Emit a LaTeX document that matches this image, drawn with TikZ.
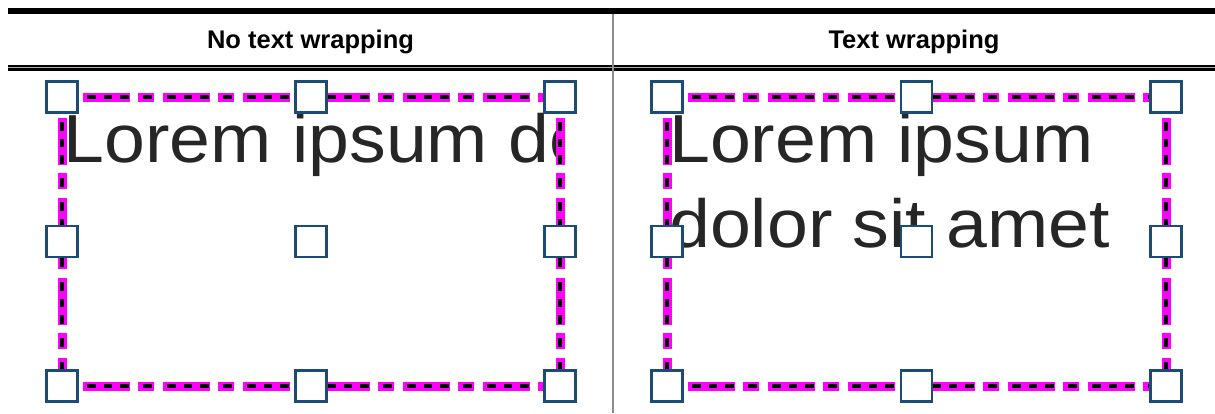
\documentclass[tikz,border=0pt]{standalone}
\usepackage{fontspec}
\setmainfont{Liberation Sans}
\newfontfamily\loremfont[FakeStretch=1.08]{Liberation Sans}
\definecolor{handleblue}{RGB}{28,76,116}
\definecolor{framemag}{RGB}{255,0,255}
\definecolor{txtgray}{RGB}{38,38,38}
\definecolor{sepgray}{RGB}{140,140,140}
\begin{document}
\begin{tikzpicture}[x=1pt,y=-1pt,
  hdr/.style={font=\bfseries\fontsize{25.5}{30}\selectfont, anchor=base, inner sep=0},
  lorem/.style={font=\loremfont\fontsize{68}{85}\selectfont, text=txtgray, anchor=base west, inner sep=0},
  handle/.style={rectangle, draw=handleblue, fill=white, line width=2.3pt, minimum size=31pt, inner sep=0},
  magline/.style={draw=framemag, line width=9pt, dash pattern=on 47pt off 8pt on 16pt off 9pt, dash phase=59pt},
  blkline/.style={draw=black, line width=3.5pt, dash pattern=on 8.5pt off 8pt on 8.5pt off 8pt on 8.5pt off 14.5pt on 8.5pt off 15.5pt, dash phase=55pt}
]
\useasboundingbox (0,0) rectangle (1215,413);
\fill[white] (0,0) rectangle (1215,413);

% table rules
\fill[black] (8,8) rectangle (1215,13.5);
\fill[black] (8,65) rectangle (1215,71);
\draw[sepgray!70, line width=0.8pt] (8,67.3) -- (1215,67.3);
\draw[sepgray, line width=1.8pt] (613,13.5) -- (613,413);

% headers
\node[hdr] (h1) at (310.5,48.5) {No text wrapping};
\node[hdr] (h2) at (914,48.5) {Text wrapping};

% left panel text (clipped at the frame)
\begin{scope}
  \clip (62,97) rectangle (558,386);
  \node[lorem] (t1) at (63.5,162) {Lorem ipsum do};
\end{scope}

% right panel text (wrapped); base anchor = baseline of last line
\node[lorem, align=left] (t2) at (669,247) {Lorem ipsum\\dolor sit amet};

% corner coordinates
\coordinate (aTL) at (62,97);  \coordinate (aTR) at (560,97);
\coordinate (aBL) at (62,386); \coordinate (aBR) at (560,386);
\coordinate (bTL) at (667,97);  \coordinate (bTR) at (1166,97);
\coordinate (bBL) at (667,386); \coordinate (bBR) at (1166,386);

% frames
\foreach \p in {a,b}{
  \draw[magline] (\p TL) -- (\p TR);
  \draw[magline] (\p BL) -- (\p BR);
  \draw[magline] (\p TL) -- (\p BL);
  \draw[magline] (\p TR) -- (\p BR);
  \draw[blkline] (\p TL) -- (\p TR);
  \draw[blkline] (\p BL) -- (\p BR);
  \draw[blkline] (\p TL) -- (\p BL);
  \draw[blkline] (\p TR) -- (\p BR);
}

% handles left
\node[handle] (la1) at (62,97) {};
\node[handle] (la2) at (311,97) {};
\node[handle] (la3) at (560,97) {};
\node[handle] (la4) at (62,241.5) {};
\node[handle] (la5) at (311,241.5) {};
\node[handle] (la6) at (560,241.5) {};
\node[handle] (la7) at (62,386) {};
\node[handle] (la8) at (311,386) {};
\node[handle] (la9) at (560,386) {};
% handles right
\node[handle] (rb1) at (667,97) {};
\node[handle] (rb2) at (916.5,97) {};
\node[handle] (rb3) at (1166,97) {};
\node[handle] (rb4) at (667,241.5) {};
\node[handle] (rb5) at (916.5,241.5) {};
\node[handle] (rb6) at (1166,241.5) {};
\node[handle] (rb7) at (667,386) {};
\node[handle] (rb8) at (916.5,386) {};
\node[handle] (rb9) at (1166,386) {};
\end{tikzpicture}
\end{document}
